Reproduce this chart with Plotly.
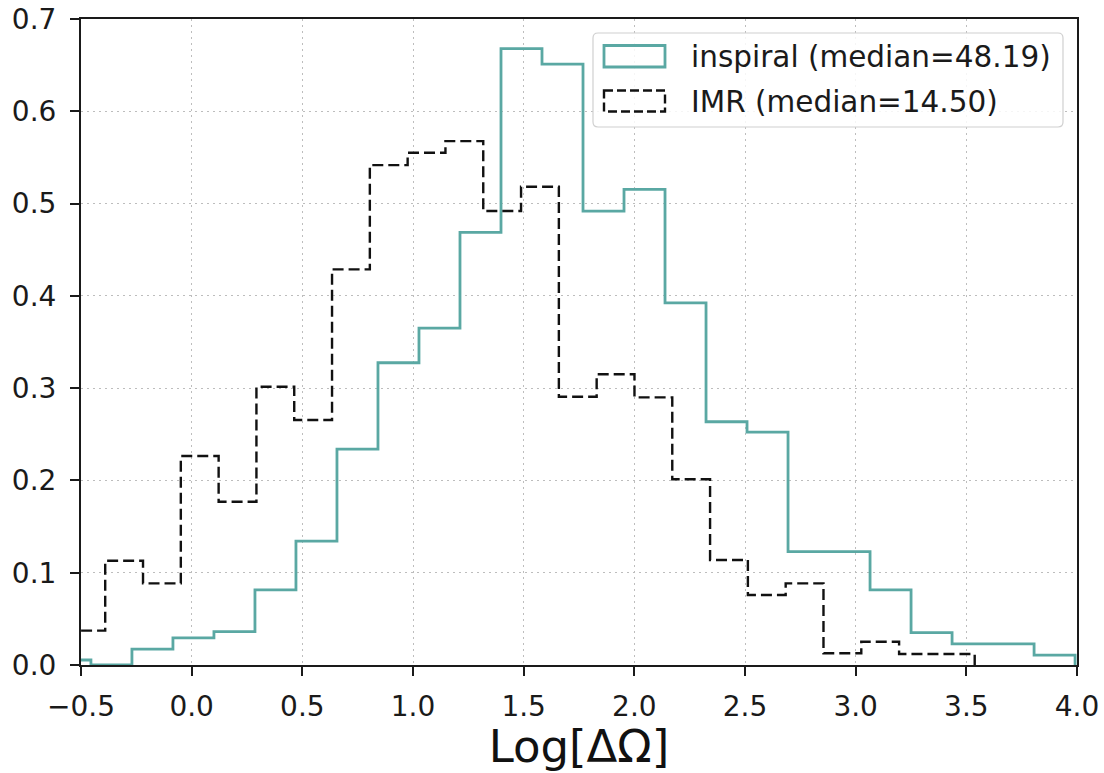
import numpy as np
import plotly.graph_objects as go

# ---- data (histogram, density) ----
inspiral_bin_start = -0.6404
inspiral_bin_width = 0.18527
inspiral_heights = [0.0054, 0.0, 0.0173, 0.0293, 0.0361, 0.0813, 0.1343, 0.2340,
                    0.3275, 0.3651, 0.4688, 0.6680, 0.6510, 0.4919, 0.5154, 0.3925,
                    0.2636, 0.2524, 0.1228, 0.1228, 0.0813, 0.0350, 0.0228, 0.0228,
                    0.0108]

imr_bin_start = -0.5614
imr_bin_width = 0.1708
imr_heights = [0.0372, 0.1130, 0.0885, 0.2264, 0.1769, 0.3015, 0.2654, 0.4287,
               0.5417, 0.5550, 0.5677, 0.4919, 0.5182, 0.2907, 0.3150, 0.2900,
               0.2012, 0.1138, 0.0758, 0.0885, 0.0127, 0.0252, 0.0119, 0.0119]

series_names = ["inspiral (median=48.19)", "IMR (median=14.50)"]
x_ticks = [-0.5, 0.0, 0.5, 1.0, 1.5, 2.0, 2.5, 3.0, 3.5, 4.0]
y_ticks = [0.0, 0.1, 0.2, 0.3, 0.4, 0.5, 0.6, 0.7]
x_title = "Log[ΔΩ]"

TEAL = "#5aa8a3"
FONT = "DejaVu Sans"


def step_xy(start, width, heights):
    edges = start + width * np.arange(len(heights) + 1)
    xs = [edges[0]] + list(edges)
    ys = [0.0] + list(heights) + [0.0]
    return xs, ys


fig = go.Figure()
xs, ys = step_xy(inspiral_bin_start, inspiral_bin_width, inspiral_heights)
fig.add_trace(go.Scatter(x=xs, y=ys, mode="lines", line_shape="hv",
                         line=dict(color=TEAL, width=2.8), name=series_names[0],
                         showlegend=False, hoverinfo="skip"))
xs, ys = step_xy(imr_bin_start, imr_bin_width, imr_heights)
fig.add_trace(go.Scatter(x=xs, y=ys, mode="lines", line_shape="hv",
                         line=dict(color="#111111", width=2.4, dash="11px,5px"),
                         name=series_names[1], showlegend=False, hoverinfo="skip"))

axis_common = dict(
    showline=True, linecolor="#1a1a1a", linewidth=2, mirror=True,
    ticks="outside", ticklen=9, tickwidth=2, tickcolor="#1a1a1a",
    showgrid=True, gridcolor="#bdbdbd", gridwidth=1.4, griddash="2px,4px",
    zeroline=False, tickfont=dict(family=FONT, size=28, color="#1a1a1a"),
    tickformat=".1f", automargin=False,
)

fig.update_layout(
    width=1104, height=773,
    margin=dict(l=81, r=27, t=19, b=108),
    paper_bgcolor="white", plot_bgcolor="white",
    showlegend=False,
    xaxis=dict(range=[-0.5, 4.0], tickvals=x_ticks, ticklabelstandoff=6,
               title=dict(text=x_title, font=dict(family=FONT, size=45, color="#111111"),
                          standoff=14),
               **axis_common),
    yaxis=dict(range=[0, 0.7], tickvals=y_ticks, ticklabelstandoff=8, **axis_common),
)

# ---- manual legend (matplotlib-like, with patch handles) ----
W, H = 996.0, 646.0  # plot area size in px


def px_x(p):
    return (p - 81) / W


def px_y(p):
    return (665 - p) / H


x0, x1, y0, y1, r = 593, 1063, 33, 127, 5
path = (f"M {px_x(x0 + r)},{px_y(y0)} L {px_x(x1 - r)},{px_y(y0)} "
        f"Q {px_x(x1)},{px_y(y0)} {px_x(x1)},{px_y(y0 + r)} "
        f"L {px_x(x1)},{px_y(y1 - r)} Q {px_x(x1)},{px_y(y1)} {px_x(x1 - r)},{px_y(y1)} "
        f"L {px_x(x0 + r)},{px_y(y1)} Q {px_x(x0)},{px_y(y1)} {px_x(x0)},{px_y(y1 - r)} "
        f"L {px_x(x0)},{px_y(y0 + r)} Q {px_x(x0)},{px_y(y0)} {px_x(x0 + r)},{px_y(y0)} Z")
fig.add_shape(type="path", path=path, xref="paper", yref="paper",
              line=dict(color="#d0d0d0", width=1.2), fillcolor="rgba(255,255,255,0.85)",
              layer="above")

fig.add_shape(type="rect", xref="paper", yref="paper",
              x0=px_x(604), x1=px_x(665), y0=px_y(45.5), y1=px_y(67),
              line=dict(color=TEAL, width=2.8), fillcolor="rgba(0,0,0,0)", layer="above")
fig.add_shape(type="rect", xref="paper", yref="paper",
              x0=px_x(604), x1=px_x(665), y0=px_y(90.5), y1=px_y(111.5),
              line=dict(color="#111111", width=2.4, dash="9px,4px"),
              fillcolor="rgba(0,0,0,0)", layer="above")

for name, yc in zip(series_names, [56.5, 101.5]):
    fig.add_annotation(text=name, xref="paper", yref="paper",
                       x=px_x(689), y=px_y(yc), xanchor="left", yanchor="middle",
                       showarrow=False,
                       font=dict(family=FONT, size=29.5, color="#1a1a1a"))

fig.write_html("out.html")
